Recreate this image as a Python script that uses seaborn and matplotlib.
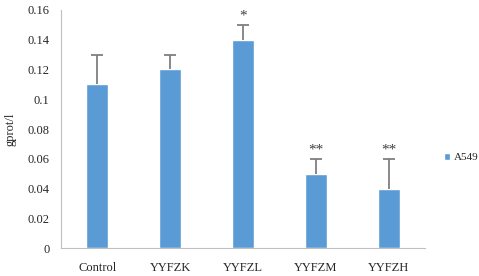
import numpy as np
import pandas as pd
import matplotlib
matplotlib.use("Agg")
import matplotlib.pyplot as plt
import seaborn as sns
from matplotlib.ticker import FuncFormatter

# 데이터
groups = ["Control", "YYFZK", "YYFZL", "YYFZM", "YYFZH"]
values = [0.11, 0.12, 0.14, 0.05, 0.04]
errors = [0.02, 0.01, 0.01, 0.01, 0.02]
marks = ["", "", "*", "**", "**"]
series = "A549"

sns.set_style("white")
plt.rcParams["font.family"] = ["Liberation Serif", "DejaVu Serif"]

df = pd.DataFrame({"group": groups, "value": values, "series": series})

fig = plt.figure(figsize=(4.79, 2.76), dpi=100)
ax = fig.add_axes([0.127, 0.101, 0.761, 0.863])

sns.barplot(data=df, x="group", y="value", hue="series", palette=["#5B9BD5"],
            saturation=1, width=0.3, errorbar=None, ax=ax, zorder=2)

# 위쪽 오차막대만
pos = np.arange(len(groups))
top = np.array(values) + np.array(errors)
ax.vlines(pos, values, top, color="#7F7F7F", lw=1.3, zorder=3)
ax.plot(pos, top, ls="none", marker="_", ms=8, mew=1.3, color="#7F7F7F", zorder=3)
for x, t, m in zip(pos, top, marks):
    if m:
        ax.text(x, t + 0.0015, m, ha="center", va="bottom", fontsize=11, color="#404040")

ax.set_ylim(0, 0.16)
ax.set_xlim(-0.5, len(groups) - 0.5)
ax.set_yticks(np.arange(0, 0.161, 0.02))
ax.yaxis.set_major_formatter(FuncFormatter(lambda v, p: f"{v:.2f}".rstrip("0").rstrip(".") if v else "0"))
ax.tick_params(axis="both", length=0, labelsize=9, pad=8, labelcolor="#262626")
ax.tick_params(axis="x", pad=10)
ax.set_xlabel("")
ax.set_ylabel("gprot/l", fontsize=9, labelpad=8, color="#262626")

for s in ["top", "right"]:
    ax.spines[s].set_visible(False)
for s in ["left", "bottom"]:
    ax.spines[s].set_color("#BFBFBF")
    ax.spines[s].set_linewidth(0.8)

ax.legend(loc="center left", bbox_to_anchor=(1.05, 0.38), frameon=False,
          fontsize=8, handlelength=0.6, handleheight=0.6, handletextpad=0.3,
          borderpad=0, borderaxespad=0)

fig.savefig("out.png", dpi=100)
